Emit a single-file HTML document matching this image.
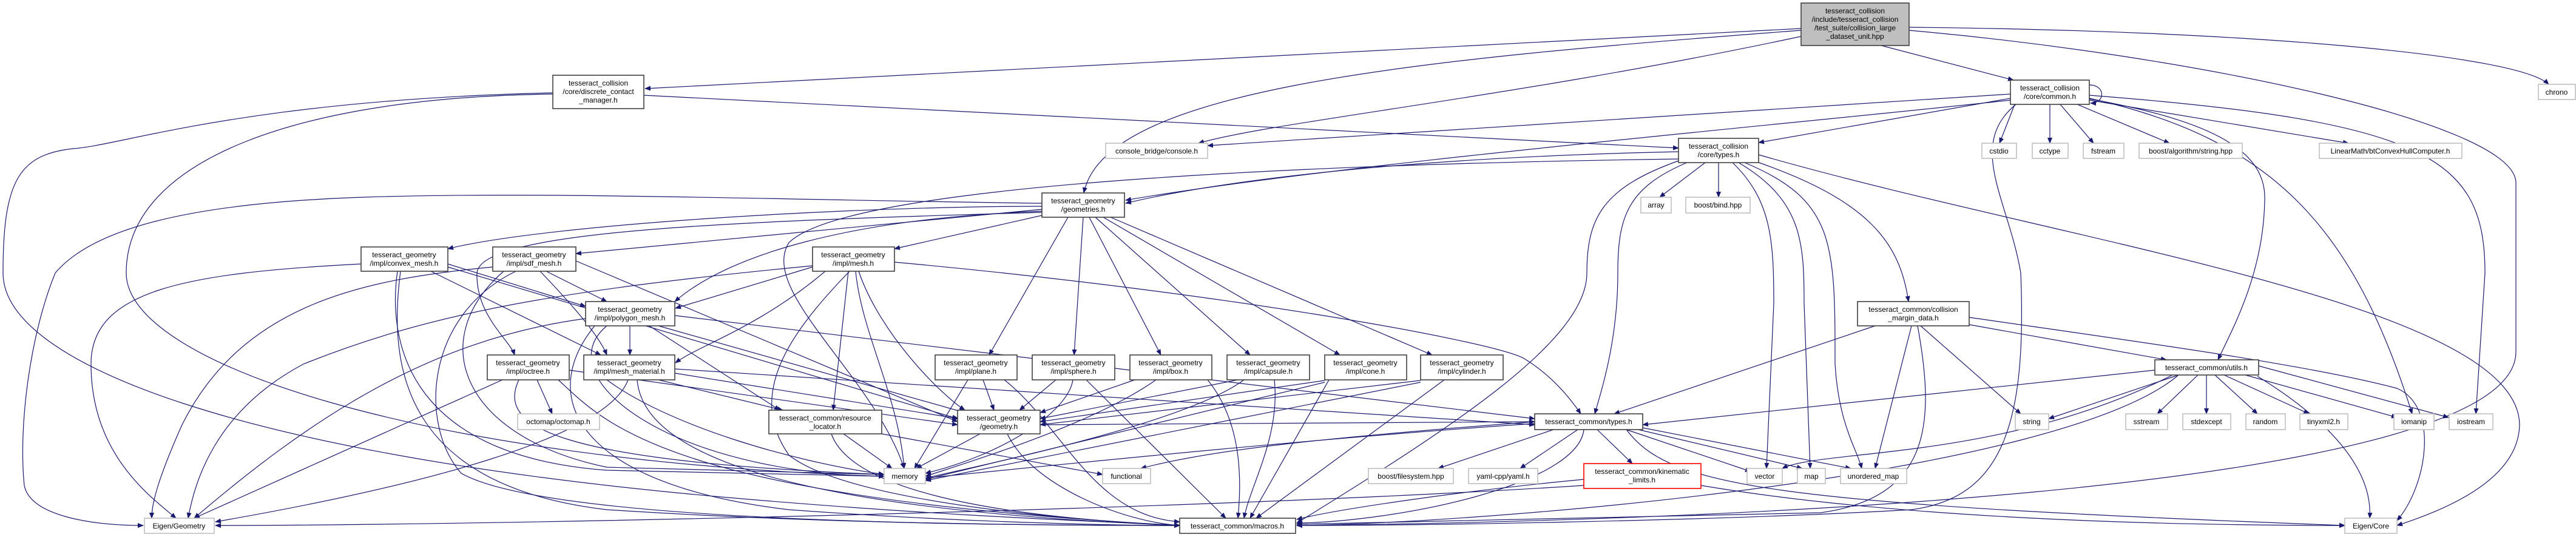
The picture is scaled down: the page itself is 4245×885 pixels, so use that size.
<!DOCTYPE html>
<html><head><meta charset="utf-8"><style>
html,body{margin:0;padding:0;background:#fff;}
svg{display:block;}
.e path{fill:none;stroke:#191970;stroke-width:1.2;marker-end:url(#a);}
.n rect{fill:#fff;stroke:#404040;stroke-width:1.6;}
.l rect{fill:#fff;stroke:#bfbfbf;stroke-width:1.6;}
text{font-family:"Liberation Sans",sans-serif;font-size:12px;fill:#000;text-anchor:middle;}
</style></head><body>
<svg width="4245" height="885" viewBox="0 0 4245 885" xmlns="http://www.w3.org/2000/svg">
<defs><marker id="a" markerWidth="10" markerHeight="8" refX="9" refY="4" orient="auto" markerUnits="userSpaceOnUse"><path d="M0,0 L10,4 L0,8z" fill="#191970"/></marker></defs>
<g class="e">
<!-- main -->
<path d="M2968,47 L1063,146"/>
<path d="M2968,60 C2500,160 2100,200 1975,236"/>
<path d="M2968,50 C2300,100 1820,150 1786,318"/>
<path d="M3100,75 L3318,132"/>
<path d="M3146,45 C3700,50 4150,90 4200,139"/>
<path d="M3146,50 C3600,90 4140,200 4146,300 L4146,580 C4146,820 2700,860 2137,866"/>
<!-- discrete -->
<path d="M1061,157 L2766,244"/>
<path d="M911,153 C400,165 200,240 120,245 C30,255 5,300 5,450 C5,600 400,750 1200,820 C1600,855 1900,862 1944,866"/>
<path d="M911,155 C500,160 208,260 208,450 C208,600 700,760 1457,785"/>
<!-- common -->
<path d="M3443,140 C3470,140 3470,170 3445,170"/>
<path d="M3313,155 L1990,240"/>
<path d="M3313,162 L2898,235"/>
<path d="M3313,165 C3000,200 2200,270 1855,330"/>
<path d="M3320,172 L3295,236"/>
<path d="M3378,172 L3378,236"/>
<path d="M3395,172 L3450,236"/>
<path d="M3423,172 L3575,236"/>
<path d="M3443,165 L3870,236"/>
<path d="M3443,163 C3650,200 3735,250 3732,330 C3730,450 3680,540 3655,593"/>
<path d="M3443,162 C3750,230 3880,380 3975,682"/>
<path d="M3443,157 C4000,200 4095,260 4095,450 L4080,682"/>
<path d="M3322,172 C3240,240 3310,330 3330,450 C3340,700 3300,820 3150,840 C2800,860 2300,866 2137,866"/>
<!-- collision types -->
<path d="M2810,268 L2735,325"/>
<path d="M2832,268 L2832,325"/>
<path d="M2766,250 C2300,260 2000,300 1855,335"/>
<path d="M2766,262 C2200,270 1400,300 1300,400 C1250,480 1440,620 1490,772"/>
<path d="M2780,268 C2680,310 2666,360 2666,450 C2666,560 2640,640 2628,682"/>
<path d="M2766,265 C2640,310 2615,360 2615,450 C2615,560 2400,700 2137,862"/>
<path d="M2855,268 C2920,330 2923,400 2923,500 L2911,772"/>
<path d="M2865,268 C2970,330 2973,400 2973,500 L2983,772"/>
<path d="M2875,268 C3024,330 3024,400 3024,600 C3030,700 3060,740 3068,772"/>
<path d="M2890,265 C3080,330 3131,400 3145,497"/>
<path d="M2898,255 C3400,400 4150,500 4152,700 C4150,800 4000,850 3950,866"/>
<!-- geometries -->
<path d="M1717,355 L1474,410"/>
<path d="M1717,340 C1400,340 900,370 738,410"/>
<path d="M1717,345 L949,418"/>
<path d="M1717,348 C1400,360 1200,420 1112,497"/>
<path d="M1717,350 C1200,365 790,380 786,450 C784,520 840,560 848,585"/>
<path d="M1760,358 L1630,585"/>
<path d="M1785,358 L1770,585"/>
<path d="M1795,358 L1913,585"/>
<path d="M1805,358 L2060,585"/>
<path d="M1818,358 L2208,585"/>
<path d="M1830,358 L2360,585"/>
<path d="M1717,335 C1300,330 900,315 600,325 C300,335 150,380 91,450 C50,550 30,700 40,800 C50,850 150,866 236,866"/>
<!-- mesh -->
<path d="M1339,440 L1113,508"/>
<path d="M1360,447 C1250,540 1150,570 1113,598"/>
<path d="M1398,447 L1373,676"/>
<path d="M1410,447 C1420,550 1480,650 1490,772"/>
<path d="M1415,447 C1450,550 1550,650 1590,676"/>
<path d="M1400,447 C1300,550 1230,650 1300,750 C1400,830 1800,860 1944,866"/>
<path d="M1474,432 C2000,480 2450,560 2510,590 C2560,620 2590,660 2605,682"/>
<path d="M1339,438 C900,480 700,520 500,600 C350,680 320,800 310,854"/>
<!-- convex -->
<path d="M738,435 L965,505"/>
<path d="M710,447 L990,585"/>
<path d="M738,440 L1578,690"/>
<path d="M595,435 C300,450 150,480 150,600 C150,750 250,820 290,854"/>
<path d="M660,447 C640,600 660,800 1000,840 C1400,866 1800,866 1944,866"/>
<path d="M655,447 C640,550 660,750 1000,775 L1457,785"/>
<!-- sdf -->
<path d="M900,447 L1000,497"/>
<path d="M890,447 C960,520 990,560 1000,585"/>
<path d="M949,430 L1578,695"/>
<path d="M812,440 C600,460 400,500 300,700 C260,790 250,830 250,854"/>
<path d="M850,447 C700,520 690,700 760,780 C900,860 1600,866 1944,866"/>
<path d="M830,447 C700,560 760,720 1000,770 L1457,782"/>
<!-- polygon -->
<path d="M1038,537 L1038,585"/>
<path d="M1070,537 L1285,676"/>
<path d="M1085,537 L1590,680"/>
<path d="M965,525 C700,560 500,700 320,854"/>
<path d="M1000,537 C900,620 1100,780 1457,785"/>
<path d="M980,537 C880,660 960,800 1300,840 C1600,862 1850,866 1944,866"/>
<path d="M1112,520 L2529,690"/>
<!-- material -->
<path d="M1085,626 L1290,676"/>
<path d="M1112,615 L1580,690"/>
<path d="M1000,626 C1100,700 1300,760 1457,782"/>
<path d="M1035,626 C1000,720 700,800 355,860"/>
<path d="M1050,626 C1060,750 1300,840 1944,866"/>
<path d="M1112,608 L2529,700"/>
<!-- octree -->
<path d="M885,626 L910,682"/>
<path d="M828,626 L320,854"/>
<path d="M855,626 C820,700 900,760 1457,782"/>
<path d="M920,626 C1000,700 1100,820 1944,866"/>
<path d="M938,610 L1578,700"/>
<!-- shapes -->
<path d="M1620,626 L1638,676"/>
<path d="M1740,626 L1680,676"/>
<path d="M1870,626 L1714,680"/>
<path d="M2040,626 L1714,690"/>
<path d="M2183,627 L1714,695"/>
<path d="M2341,627 L1714,700"/>
<path d="M1595,626 L1507,772"/>
<path d="M1768,626 C1760,680 1650,750 1525,780"/>
<path d="M1905,626 C1800,700 1600,760 1525,785"/>
<path d="M2050,626 C1950,700 1600,770 1525,788"/>
<path d="M2183,630 L1525,790"/>
<path d="M2341,630 L1525,792"/>
<path d="M1655,626 C1750,700 1800,850 1944,860"/>
<path d="M1790,626 L2020,854"/>
<path d="M1990,626 C2050,700 2045,800 2040,854"/>
<path d="M2100,626 C2110,720 2060,800 2050,854"/>
<path d="M2190,626 L2060,854"/>
<path d="M2380,626 L2070,854"/>
<!-- geometry.h & resource -->
<path d="M1615,715 L1510,772"/>
<path d="M1660,715 C1700,800 1850,860 1944,866"/>
<path d="M1714,700 L2529,695"/>
<path d="M1390,715 L1470,772"/>
<path d="M1453,715 L1817,782"/>
<path d="M1370,715 C1400,800 1600,850 1944,866"/>
<!-- common types -->
<path d="M2560,708 L2370,772"/>
<path d="M2600,708 L2505,772"/>
<path d="M2632,708 L2690,764"/>
<path d="M2680,708 L2885,777"/>
<path d="M2700,708 L2970,772"/>
<path d="M2707,705 L3050,772"/>
<path d="M2529,698 C2200,720 1800,760 1525,788"/>
<path d="M2529,695 C2200,720 2000,740 1880,772"/>
<path d="M2610,708 C2600,800 2300,860 2137,862"/>
<path d="M2680,708 C2750,800 2900,830 3864,866"/>
<!-- kinematic -->
<path d="M2610,790 C2400,810 2200,840 2137,856"/>
<path d="M2610,800 C2000,840 800,866 355,866"/>
<path d="M2803,800 C3100,850 3500,866 3864,866"/>
<!-- margin -->
<path d="M3090,537 L2660,682"/>
<path d="M3165,537 L3330,682"/>
<path d="M3150,537 L3090,772"/>
<path d="M3160,537 C3190,700 3180,820 3000,845 L2137,864"/>
<path d="M3245,523 C3500,560 3800,600 3950,640 C4020,670 4000,800 3950,858"/>
<path d="M3245,535 L3570,593"/>
<!-- utils -->
<path d="M3590,618 L3376,690"/>
<path d="M3622,618 L3555,682"/>
<path d="M3636,618 L3636,682"/>
<path d="M3650,618 L3720,682"/>
<path d="M3665,618 L3805,682"/>
<path d="M3700,618 L3950,688"/>
<path d="M3722,603 L4035,688"/>
<path d="M3720,620 C3850,700 3910,780 3905,854"/>
<path d="M3551,610 L2707,700"/>
<path d="M3590,618 C3400,780 2500,860 2137,866"/>
<path d="M3580,618 C3300,760 3000,740 2937,772"/>
</g>
<!-- nodes -->
<g class="n">
<rect x="2968" y="5" width="178" height="70" style="fill:#bfbfbf"/>
<rect x="911" y="124" width="150" height="55"/>
<rect x="3313" y="132" width="130" height="40"/>
<rect x="1717" y="318" width="136" height="40"/>
<rect x="2766" y="228" width="132" height="40"/>
<rect x="595" y="407" width="143" height="40"/>
<rect x="812" y="407" width="137" height="40"/>
<rect x="1339" y="407" width="135" height="40"/>
<rect x="965" y="497" width="147" height="40"/>
<rect x="3061" y="497" width="184" height="40"/>
<rect x="803" y="585" width="135" height="41"/>
<rect x="962" y="585" width="150" height="41"/>
<rect x="1541" y="585" width="135" height="41"/>
<rect x="1701" y="585" width="136" height="41"/>
<rect x="1862" y="585" width="135" height="41"/>
<rect x="2022" y="585" width="136" height="41"/>
<rect x="2183" y="585" width="135" height="41"/>
<rect x="2341" y="585" width="136" height="41"/>
<rect x="3551" y="593" width="171" height="25"/>
<rect x="1267" y="676" width="186" height="39"/>
<rect x="1578" y="676" width="136" height="39"/>
<rect x="2529" y="682" width="178" height="26"/>
<rect x="1944" y="854" width="191" height="25"/>
<rect x="2610" y="764" width="193" height="41" style="stroke:#ff0000"/>
</g>
<g class="l">
<rect x="1822" y="236" width="168" height="25"/>
<rect x="3266" y="236" width="57" height="25"/>
<rect x="3349" y="236" width="59" height="25"/>
<rect x="3433" y="236" width="67" height="25"/>
<rect x="3525" y="236" width="170" height="25"/>
<rect x="3822" y="236" width="235" height="25"/>
<rect x="4183" y="139" width="61" height="25"/>
<rect x="2704" y="325" width="50" height="26"/>
<rect x="2778" y="325" width="106" height="26"/>
<rect x="853" y="682" width="135" height="26"/>
<rect x="3321" y="682" width="55" height="26"/>
<rect x="3503" y="682" width="69" height="26"/>
<rect x="3597" y="682" width="79" height="26"/>
<rect x="3701" y="682" width="65" height="26"/>
<rect x="3790" y="682" width="79" height="26"/>
<rect x="3945" y="682" width="66" height="26"/>
<rect x="4036" y="682" width="72" height="26"/>
<rect x="1457" y="772" width="68" height="25"/>
<rect x="1817" y="772" width="79" height="25"/>
<rect x="2255" y="772" width="140" height="25"/>
<rect x="2420" y="772" width="114" height="25"/>
<rect x="2879" y="772" width="58" height="25"/>
<rect x="2962" y="772" width="46" height="25"/>
<rect x="3033" y="772" width="109" height="25"/>
<rect x="238" y="854" width="115" height="25"/>
<rect x="3864" y="854" width="86" height="25"/>
</g>
<g>
<text x="3057" y="22">tesseract_collision</text>
<text x="3057" y="36">/include/tesseract_collision</text>
<text x="3057" y="50">/test_suite/collision_large</text>
<text x="3057" y="64">_dataset_unit.hpp</text>
<text x="986" y="141">tesseract_collision</text>
<text x="986" y="155">/core/discrete_contact</text>
<text x="986" y="169">_manager.h</text>
<text x="3378" y="149">tesseract_collision</text>
<text x="3378" y="163">/core/common.h</text>
<text x="1785" y="335">tesseract_geometry</text>
<text x="1785" y="349">/geometries.h</text>
<text x="2832" y="245">tesseract_collision</text>
<text x="2832" y="259">/core/types.h</text>
<text x="666" y="424">tesseract_geometry</text>
<text x="666" y="438">/impl/convex_mesh.h</text>
<text x="880" y="424">tesseract_geometry</text>
<text x="880" y="438">/impl/sdf_mesh.h</text>
<text x="1406" y="424">tesseract_geometry</text>
<text x="1406" y="438">/impl/mesh.h</text>
<text x="1038" y="514">tesseract_geometry</text>
<text x="1038" y="528">/impl/polygon_mesh.h</text>
<text x="3153" y="514">tesseract_common/collision</text>
<text x="3153" y="528">_margin_data.h</text>
<text x="870" y="602">tesseract_geometry</text>
<text x="870" y="616">/impl/octree.h</text>
<text x="1037" y="602">tesseract_geometry</text>
<text x="1037" y="616">/impl/mesh_material.h</text>
<text x="1608" y="602">tesseract_geometry</text>
<text x="1608" y="616">/impl/plane.h</text>
<text x="1769" y="602">tesseract_geometry</text>
<text x="1769" y="616">/impl/sphere.h</text>
<text x="1929" y="602">tesseract_geometry</text>
<text x="1929" y="616">/impl/box.h</text>
<text x="2090" y="602">tesseract_geometry</text>
<text x="2090" y="616">/impl/capsule.h</text>
<text x="2250" y="602">tesseract_geometry</text>
<text x="2250" y="616">/impl/cone.h</text>
<text x="2409" y="602">tesseract_geometry</text>
<text x="2409" y="616">/impl/cylinder.h</text>
<text x="3636" y="610">tesseract_common/utils.h</text>
<text x="1360" y="693">tesseract_common/resource</text>
<text x="1360" y="707">_locator.h</text>
<text x="1646" y="693">tesseract_geometry</text>
<text x="1646" y="707">/geometry.h</text>
<text x="2618" y="699">tesseract_common/types.h</text>
<text x="2039" y="871">tesseract_common/macros.h</text>
<text x="2706" y="781">tesseract_common/kinematic</text>
<text x="2706" y="795">_limits.h</text>
<text x="1906" y="253">console_bridge/console.h</text>
<text x="3294" y="253">cstdio</text>
<text x="3378" y="253">cctype</text>
<text x="3466" y="253">fstream</text>
<text x="3610" y="253">boost/algorithm/string.hpp</text>
<text x="3939" y="253">LinearMath/btConvexHullComputer.h</text>
<text x="4213" y="156">chrono</text>
<text x="2729" y="342">array</text>
<text x="2831" y="342">boost/bind.hpp</text>
<text x="920" y="699">octomap/octomap.h</text>
<text x="3348" y="699">string</text>
<text x="3537" y="699">sstream</text>
<text x="3636" y="699">stdexcept</text>
<text x="3733" y="699">random</text>
<text x="3829" y="699">tinyxml2.h</text>
<text x="3978" y="699">iomanip</text>
<text x="4072" y="699">iostream</text>
<text x="1491" y="789">memory</text>
<text x="1856" y="789">functional</text>
<text x="2325" y="789">boost/filesystem.hpp</text>
<text x="2477" y="789">yaml-cpp/yaml.h</text>
<text x="2908" y="789">vector</text>
<text x="2985" y="789">map</text>
<text x="3087" y="789">unordered_map</text>
<text x="295" y="871">Eigen/Geometry</text>
<text x="3907" y="871">Eigen/Core</text>
</g>
</svg>
</body></html>
